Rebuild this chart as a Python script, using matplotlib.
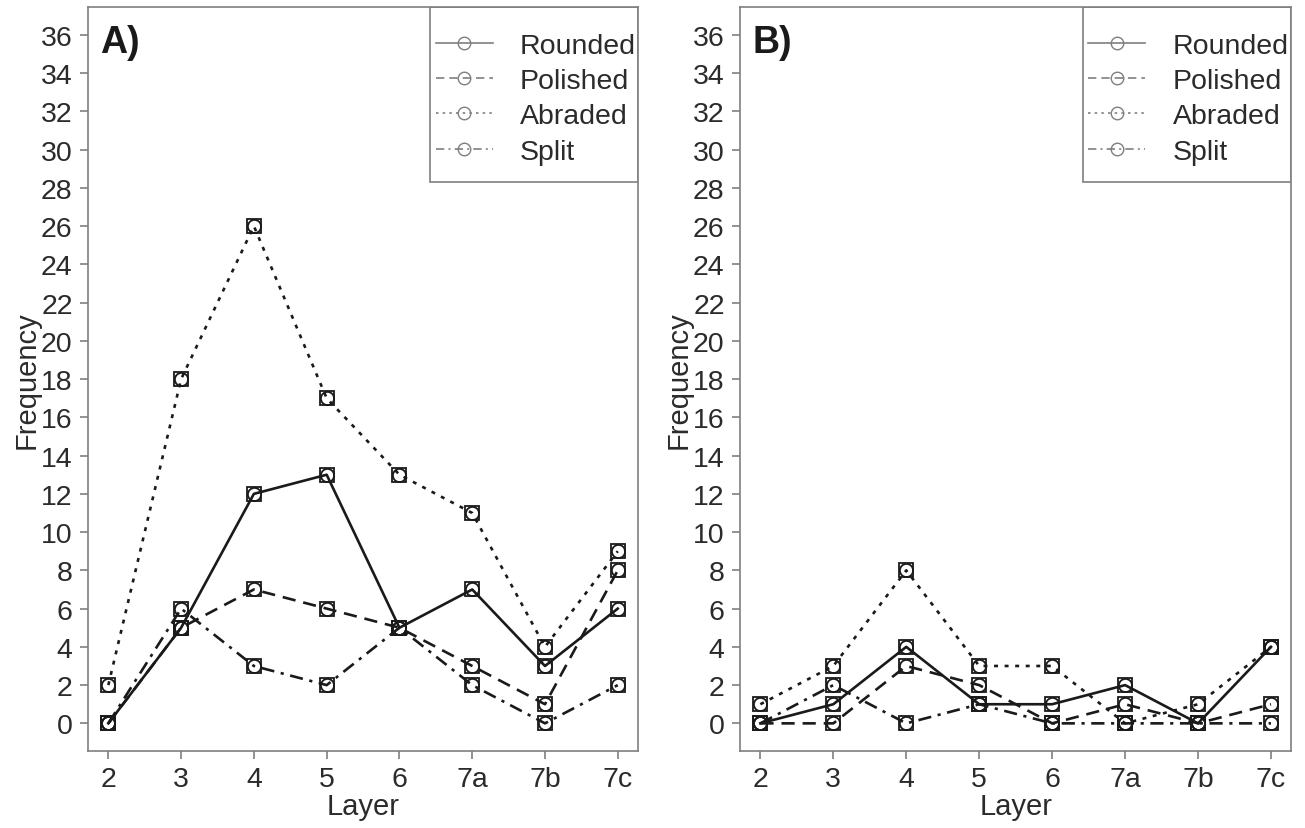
import matplotlib
matplotlib.use("Agg")
import matplotlib.pyplot as plt
from matplotlib.lines import Line2D
from matplotlib.patches import Rectangle

layers = ['2', '3', '4', '5', '6', '7a', '7b', '7c']
series_names = ['Rounded', 'Polished', 'Abraded', 'Split']
styles = ['-', (0, (5, 3)), (0, (1.5, 2.5)), (0, (5, 2.5, 1.2, 2.5))]

# panel A
a_rounded = [0, 5, 12, 13, 5, 7, 3, 6]
a_polished = [0, 5, 7, 6, 5, 3, 1, 8]
a_abraded = [2, 18, 26, 17, 13, 11, 4, 9]
a_split = [0, 6, 3, 2, 5, 2, 0, 2]

# panel B
b_rounded = [0, 1, 4, 1, 1, 2, 0, 4]
b_polished = [0, 0, 3, 2, 0, 1, 0, 1]
b_abraded = [1, 3, 8, 3, 3, 0, 1, 4]
b_split = [0, 2, 0, 1, 0, 0, 0, 0]

plt.rcParams['font.family'] = ['Liberation Sans', 'DejaVu Sans']

grey = '#7f7f7f'
txt = '#2b2b2b'


def draw_panel(ax, data, label):
    x = list(range(len(layers)))
    for vals, ls in zip(data, styles):
        ax.plot(x, vals, linestyle=ls, color='#1a1a1a', lw=1.9)
        ax.plot(x, vals, linestyle='none', marker='s', ms=10.5, mfc='none',
                mec='#1a1a1a', mew=1.3)
        ax.plot(x, vals, linestyle='none', marker='o', ms=9.5, mfc='none',
                mec='#1a1a1a', mew=1.3)
    ax.set_xlim(-0.28, 7.28)
    ax.set_ylim(-1.44, 37.44)
    ax.set_xticks(x)
    ax.set_xticklabels(layers)
    ax.set_yticks(range(0, 37, 2))
    for s in ax.spines.values():
        s.set_color(grey)
        s.set_linewidth(1.2)
    ax.tick_params(colors=grey, labelcolor=txt, labelsize=20.5, length=6,
                   width=1.2, pad=5)
    ax.set_xlabel('Layer', fontsize=21, color=txt, labelpad=0)
    ax.set_ylabel('Frequency', fontsize=21, color=txt, labelpad=0)
    ax.text(0.022, 0.978, label, transform=ax.transAxes, fontsize=27,
            fontweight='bold', va='top', ha='left', color='#1a1a1a')

    # legend frame drawn separately (R-style wide vertical padding)
    ax.add_patch(Rectangle((0.622, 0.765), 0.378, 0.235, transform=ax.transAxes,
                           fill=False, edgecolor=grey, lw=1.2, zorder=5))
    handles = [Line2D([0], [0], color=grey, linestyle=ls, lw=1.2, marker='o',
                      ms=9, mfc='none', mec=grey) for ls in styles]
    leg = ax.legend(handles, series_names, loc='upper left',
                    bbox_to_anchor=(0.632, 0.9656), fontsize=20.5,
                    frameon=False, borderaxespad=0, borderpad=0,
                    handlelength=2.0, labelspacing=0.325, handletextpad=0.95)
    for t in leg.get_texts():
        t.set_color(txt)


fig = plt.figure(figsize=(13.05, 8.29), dpi=100)
ax1 = fig.add_axes([0.0674, 0.093, 0.4216, 0.897])
ax2 = fig.add_axes([0.567, 0.093, 0.4226, 0.897])
draw_panel(ax1, [a_rounded, a_polished, a_abraded, a_split], 'A)')
draw_panel(ax2, [b_rounded, b_polished, b_abraded, b_split], 'B)')
fig.savefig('out.png', dpi=100)
